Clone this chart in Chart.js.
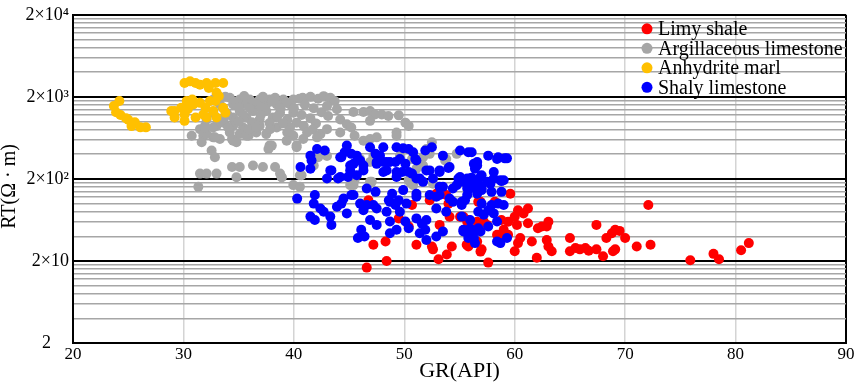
<!DOCTYPE html>
<html>
<head>
<meta charset="utf-8">
<script src="https://cdn.jsdelivr.net/npm/chart.js@4"></script>
<style>
  html, body { margin: 0; padding: 0; background: #fff; }
</style>
</head>
<body>
<canvas id="rtgr" width="858" height="386"></canvas>
<script>
// GR (API) vs RT (ohm.m)
const limyShale = [
  [46.75,110],[49.5,66],[50.7,96],[50.4,52.5],[52.9,132],[52.3,110],[53.8,127],[54.0,100],[53.2,55],[54.1,69],
  [55.05,69],[55.7,60],[56.6,50],[56.7,105],[47.2,31.5],[48.3,34.6],[51.1,31.5],[52.5,30],[52.6,27.7],[54.3,30],
  [55.8,30],[56.9,26],[53.1,21],[53.85,24],[48.4,20],[46.6,16.6],[59.6,132],[58.2,105],[56.9,105],[55.35,69],
  [55.8,63],[56.6,60],[57.2,60],[57.5,55],[58.8,63],[59.4,60],[59.0,48],[59.4,41.6],[58.4,41.6],[58.7,38],
  [55.65,31.5],[56.6,34.6],[57.0,27.7],[57.6,19.1],[60.0,69],[60.3,83],[60.8,76],[61.2,87],[61.2,57.5],[62.1,50],
  [62.45,52.5],[62.9,52.5],[63.05,60],[60.2,55],[60.5,38],[60.3,33],[60.0,26.2],[61.55,34.6],[62.0,21.9],[62.9,36],
  [63.05,30],[63.35,26.2],[65.0,38],[65.0,26.2],[65.5,28.8],[65.9,27.7],[66.4,28.8],[66.7,26.6],[67.4,55],[67.4,27.7],
  [68.0,22.8],[68.3,38],[68.8,43.5],[69.1,48],[69.5,46.5],[68.9,26.2],[69.1,27.7],[70.0,38],[71.05,30],[72.3,31.5],
  [72.1,96],[75.9,20.4],[78.0,24.4],[78.5,21],[80.5,27],[81.2,33]
];

const argillaceousLimestone = [
  [32.7,1860],[34.2,1950],[35.1,1860],[36.0,1860],[36.9,1860],[37.8,1860],[39.05,1860],[39.95,1860],[33.3,1620],[34.5,1620],
  [35.7,1620],[36.6,1620],[37.5,1620],[38.45,1620],[39.65,1620],[32.7,1280],[33.9,1280],[35.1,1340],[36.3,1340],[37.5,1340],
  [38.75,1280],[39.95,1280],[32.1,1060],[33.3,1060],[34.5,1120],[35.7,1120],[36.9,1060],[38.1,1120],[39.4,1060],[40.25,970],
  [31.96,885],[33.0,885],[34.5,885],[35.4,846],[36.9,885],[38.45,846],[39.65,846],[34.2,736],[35.1,703],[35.9,672],
  [36.6,736],[37.5,703],[39.4,736],[39.95,672],[32.7,642],[33.3,612],[34.5,585],[37.8,509],[40.25,509],[31.5,808],
  [31.8,672],[33.8,2000],[35.5,2050],[37.2,2000],[38.3,1950],[40.5,1900],[34.8,1750],[36.3,1700],[38.0,1750],[39.3,1700],
  [33.6,1450],[35.0,1500],[36.0,1450],[37.0,1500],[38.8,1450],[40.0,1450],[34.0,1200],[35.4,1200],[37.0,1200],[38.5,1150],
  [33.7,960],[35.0,1000],[36.2,980],[37.8,960],[39.0,950],[40.8,1950],[41.5,2000],[42.2,1900],[41.0,1600],[41.8,1450],
  [42.5,1300],[40.7,1200],[41.5,1100],[42.0,950],[40.9,880],[41.7,800],[42.4,700],[41.2,736],[42.1,642],[40.85,612],
  [41.8,292],[42.2,368],[30.75,672],[31.65,558],[32.1,703],[32.85,642],[31.95,846],[32.7,846],[34.05,846],[34.4,612],
  [34.8,558],[35.7,672],[35.9,808],[36.6,846],[37.85,808],[38.0,509],[37.7,464],[39.35,585],[40.25,486],[32.55,444],
  [32.85,368],[34.4,279],[34.8,209],[35.1,279],[36.3,292],[37.2,279],[38.3,279],[38.9,209],[31.5,232],[32.1,232],
  [33.0,232],[31.35,160],[39.95,168],[40.55,160],[38.75,232],[40.55,222],[42.7,2040],[43.3,1950],[43.7,1780],[43.0,1550],
  [43.9,1410],[43.1,1170],[44.2,1060],[44.8,925],[45.2,846],[43.0,808],[44.2,736],[45.5,672],[46.3,585],[46.9,612],
  [47.5,642],[45.4,1310],[46.3,1310],[46.9,1340],[47.35,1220],[47.96,1220],[48.56,1170],[49.5,1190],[46.9,1020],[50.1,970],
  [50.4,885],[49.3,736],[49.3,672],[52.5,558],[52.0,464],[51.4,292],[51.1,266],[50.5,184],[52.3,404],[54.75,404],
  [53.7,336],[47.05,184],[46.9,321],[38.9,209],[40.7,222],[43.0,380],[45.1,168],[45.4,168],[45.5,193],[46.9,184],
  [46.0,350],[47.2,380],[49.6,380],[50.7,350],[51.7,292],[50.4,193],[50.8,168],[52.6,175],[53.8,350],[51.7,368]
];

const anhydriteMarl = [
  [24.2,1780],[23.7,1550],[23.9,1300],[24.3,1200],[25.0,1050],[25.6,980],[25.3,880],[26.1,850],[26.6,850],[24.8,1100],
  [30.1,2950],[30.6,3090],[31.1,2950],[31.5,2810],[32.1,2950],[32.9,2950],[33.6,2950],[32.3,2570],[33.0,2240],[33.2,2040],
  [30.3,1780],[30.8,1860],[30.9,1620],[31.5,1690],[32.4,1780],[32.9,1780],[32.0,1470],[32.7,1340],[33.0,1120],[29.2,1340],
  [28.9,1340],[29.2,1120],[30.1,1220],[30.1,1020],[31.1,1120],[31.8,1220],[32.1,1120],[33.6,1470],[33.8,1280],[30.4,1410],
  [29.8,1470]
];

const shalyLimestone = [
  [42.1,464],[42.8,443],[41.5,384],[41.6,336],[40.6,279],[41.5,266],[43.3,254],[44.8,509],[44.6,423],[44.2,368],
  [45.2,404],[45.7,384],[46.0,336],[46.3,292],[45.4,305],[45.1,254],[46.9,486],[47.4,404],[48.1,486],[47.5,321],
  [48.1,321],[48.7,321],[49.3,486],[49.9,472],[50.4,464],[50.8,423],[49.6,350],[50.1,305],[51.1,336],[51.9,443],
  [52.5,486],[53.5,384],[54.0,271],[53.2,243],[52.3,254],[51.4,202],[51.7,184],[50.7,232],[49.8,243],[48.4,254],
  [48.1,243],[49.3,211],[44.0,202],[44.9,211],[54.9,202],[54.75,168],[53.2,160],[54.4,153],[52.9,121],[52.3,127],
  [51.1,132],[49.9,146],[48.9,132],[47.4,139],[46.6,153],[44.5,115],[45.4,127],[48.6,110],[55.05,443],[55.8,423],
  [56.1,423],[57.6,384],[58.4,350],[59.1,356],[56.3,305],[56.6,321],[56.4,266],[55.35,184],[55.7,202],[56.1,206],
  [56.9,211],[57.5,184],[58.1,202],[58.8,188],[58.1,243],[55.7,153],[56.6,160],[57.0,153],[57.9,139],[58.8,139],
  [55.5,110],[55.2,105],[57.0,100],[57.9,96],[58.5,100],[59.0,96],[56.7,79.7],[57.2,73],[57.6,83],[58.1,76],
  [55.2,69.4],[55.96,63],[58.4,60.4],[57.6,52.5],[55.35,48],[55.96,50],[56.9,45.7],[56.3,38],[58.4,34.6],[58.7,33],
  [59.3,38],[55.8,41.6],[56.6,132],[57.0,146],[55.96,168],[56.7,175],[57.8,175],[58.7,193],[59.0,193],[57.0,222],
  [59.3,356],[58.5,368],[43.0,202],[43.4,254],[44.2,211],[44.3,368],[45.1,292],[45.7,222],[46.3,254],[47.5,305],
  [47.8,384],[48.4,321],[49.2,321],[49.3,243],[50.4,243],[51.0,350],[52.0,254],[53.2,254],[51.1,202],[52.6,202],
  [54.1,279],[55.05,211],[55.96,202],[56.6,292],[40.3,115],[41.9,127],[41.8,100],[42.4,87],[41.5,69.4],[41.9,63],
  [42.7,79.7],[43.3,69.4],[43.4,55],[43.9,91.6],[44.3,100],[44.8,76],[45.2,127],[46.0,100],[46.3,83],[46.6,96],
  [47.2,96],[47.5,87],[46.9,63],[47.5,55],[46.1,48],[45.8,38],[46.4,39.8],[48.4,79.7],[48.7,105],[49.2,96],
  [49.5,110],[49.6,79.7],[50.2,100],[50.1,60.4],[50.4,50],[48.7,60.4],[48.7,43.5],[49.3,48],[51.1,121],[51.1,66],
  [51.6,57],[52.0,63],[51.4,43.5],[52.0,36],[51.9,48],[52.9,87],[53.2,127],[53.5,160],[54.1,115],[53.8,79.7],
  [54.4,105],[53.5,45.7],[52.9,39.8],[55.2,96],[55.7,127],[55.96,153],[55.35,45.7],[55.8,38],[56.3,45.7],[56.7,50],
  [56.4,33]
];

const seriesNames = ['Limy shale', 'Argillaceous limestone', 'Anhydrite marl', 'Shaly limestone'];
const seriesColors = ['#ff0000', '#a6a6a6', '#ffc000', '#0000ff'];

const xTicks = [20, 30, 40, 50, 60, 70, 80, 90];
const yMajorTicks = [2, 20, 200, 2000, 20000];
const yTickLabels = ['2    ', '2\u00d710', '2\u00d710\u00b2', '2\u00d710\u00b3', '2\u00d710\u2074'];

const serif = '"Liberation Serif", "Times New Roman", serif';

// minor lines sit at 2k x 10^n, k = 2..9
const yAllTicks = [];
yMajorTicks.forEach((base, i) => {
  yAllTicks.push(base);
  if (i < yMajorTicks.length - 1) {
    for (let k = 2; k <= 9; k++) yAllTicks.push(base * k);
  }
});

const isMajor = (v) => yMajorTicks.some((m) => Math.abs(v - m) / m < 1e-6);
const isXEdge = (v) => v === xTicks[0] || v === xTicks[xTicks.length - 1];

const toPoints = (pairs) => pairs.map(([gr, rt]) => ({ x: gr, y: rt }));

const insideLegend = {
  id: 'insideLegend',
  afterDatasetsDraw(chart) {
    const { ctx, chartArea } = chart;
    ctx.save();
    ctx.font = '20px ' + serif;
    ctx.textBaseline = 'middle';
    ctx.textAlign = 'left';
    chart.data.datasets.forEach((ds, i) => {
      const x = chartArea.right - 199;
      const y = chartArea.top + 14 + i * 19.5;
      ctx.fillStyle = ds.backgroundColor;
      ctx.beginPath();
      ctx.arc(x, y, 5.5, 0, Math.PI * 2);
      ctx.fill();
      ctx.fillStyle = '#000';
      ctx.fillText(ds.label, x + 11, y + 1);
    });
    ctx.restore();
  },
};

const seriesData = [limyShale, argillaceousLimestone, anhydriteMarl, shalyLimestone];
// blue drawn on top, red at the bottom
const drawOrder = [3, 2, 1, 0];

new Chart(document.getElementById('rtgr').getContext('2d'), {
  type: 'scatter',
  data: {
    datasets: seriesData.map((pairs, i) => ({
      label: seriesNames[i],
      data: toPoints(pairs),
      backgroundColor: seriesColors[i],
      borderWidth: 0,
      pointRadius: 5,
      pointHoverRadius: 5,
      order: drawOrder[i],
    })),
  },
  options: {
    responsive: false,
    devicePixelRatio: 1,
    animation: false,
    layout: { padding: { top: 11, right: 12, left: 0, bottom: 0 } },
    plugins: {
      legend: { display: false },
      tooltip: { enabled: false },
    },
    scales: {
      x: {
        type: 'linear',
        min: 20,
        max: 90,
        afterBuildTicks: (scale) => { scale.ticks = xTicks.map((v) => ({ value: v })); },
        afterFit: (scale) => { scale.height = 43; },
        ticks: {
          color: '#000',
          font: { family: serif, size: 17 },
          padding: 1,
          maxRotation: 0,
        },
        grid: {
          color: (ctx) => (ctx.tick && isXEdge(ctx.tick.value)) ? '#000' : '#d4d4d4',
          lineWidth: (ctx) => (ctx.tick && isXEdge(ctx.tick.value)) ? 2 : 1.5,
          drawTicks: false,
        },
        border: { display: true, color: '#000', width: 2 },
        title: {
          display: true,
          text: 'GR(API)',
          color: '#000',
          font: { family: serif, size: 22 },
          padding: { top: 0, bottom: 2 },
        },
      },
      y: {
        type: 'logarithmic',
        min: 2,
        max: 20000,
        afterBuildTicks: (scale) => { scale.ticks = yAllTicks.map((v) => ({ value: v })); },
        afterFit: (scale) => { scale.width = 73; },
        ticks: {
          autoSkip: false,
          color: '#000',
          font: { family: serif, size: 18 },
          padding: 4,
          callback: (value) => {
            const idx = yMajorTicks.findIndex((m) => Math.abs(value - m) / m < 1e-6);
            return idx >= 0 ? yTickLabels[idx] : '';
          },
        },
        grid: {
          color: (ctx) => (ctx.tick && isMajor(ctx.tick.value)) ? '#000' : '#a6a6a6',
          lineWidth: (ctx) => (ctx.tick && isMajor(ctx.tick.value)) ? 2 : 1.5,
          drawTicks: false,
        },
        border: { display: true, color: '#000', width: 2 },
        title: {
          display: true,
          // trailing spaces nudge the rotated title a little below the axis middle
          text: 'RT(\u03a9 \u00b7 m)   ',
          color: '#000',
          font: { family: serif, size: 20, lineHeight: 1 },
          padding: { top: 0, bottom: 0 },
        },
      },
    },
  },
  plugins: [insideLegend],
});
</script>
</body>
</html>
